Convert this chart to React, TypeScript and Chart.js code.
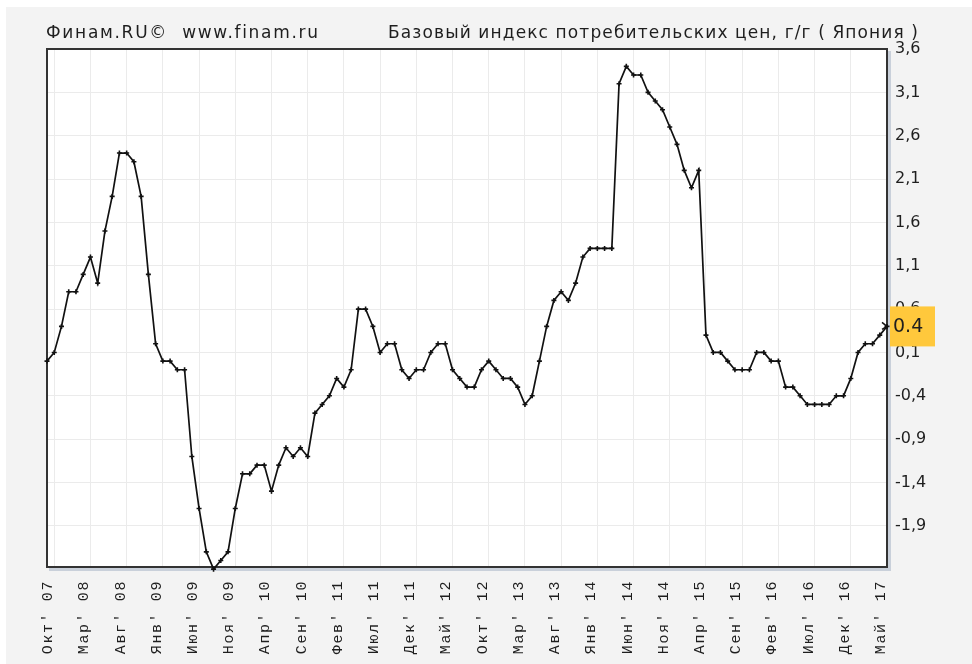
import React, { useEffect, useRef } from "react";
import { Chart, registerables } from "chart.js";

Chart.register(...registerables);

// ---------- data ----------
const MONTHS = ["Янв", "Фев", "Мар", "Апр", "Май", "Июн", "Июл", "Авг", "Сен", "Окт", "Ноя", "Дек"];
const START_YEAR = 2007;
const START_MONTH = 8; // September (0-based)

// Базовый ИПЦ Японии, г/г, % (monthly)
const VALUES: number[] = [
  0.0, 0.1, 0.4, 0.8, 0.8, 1.0, 1.2, 0.9, 1.5, 1.9,
  2.4, 2.4, 2.3, 1.9, 1.0, 0.2, 0.0, 0.0, -0.1, -0.1,
  -1.1, -1.7, -2.2, -2.4, -2.3, -2.2, -1.7, -1.3, -1.3, -1.2,
  -1.2, -1.5, -1.2, -1.0, -1.1, -1.0, -1.1, -0.6, -0.5, -0.4,
  -0.2, -0.3, -0.1, 0.6, 0.6, 0.4, 0.1, 0.2, 0.2, -0.1,
  -0.2, -0.1, -0.1, 0.1, 0.2, 0.2, -0.1, -0.2, -0.3, -0.3,
  -0.1, 0.0, -0.1, -0.2, -0.2, -0.3, -0.5, -0.4, 0.0, 0.4,
  0.7, 0.8, 0.7, 0.9, 1.2, 1.3, 1.3, 1.3, 1.3, 3.2,
  3.4, 3.3, 3.3, 3.1, 3.0, 2.9, 2.7, 2.5, 2.2, 2.0,
  2.2, 0.3, 0.1, 0.1, 0.0, -0.1, -0.1, -0.1, 0.1, 0.1,
  0.0, 0.0, -0.3, -0.3, -0.4, -0.5, -0.5, -0.5, -0.5, -0.4,
  -0.4, -0.2, 0.1, 0.2, 0.2, 0.3, 0.4,
];

const CATEGORIES: string[] = VALUES.map((_, i) => {
  const m = (START_MONTH + i) % 12;
  const y = START_YEAR + Math.floor((START_MONTH + i) / 12);
  return `${MONTHS[m]}' ${String(y % 100).padStart(2, "0")}`;
});

const TICK_LABELS = [
  "Окт' 07", "Мар' 08", "Авг' 08", "Янв' 09", "Июн' 09", "Ноя' 09",
  "Апр' 10", "Сен' 10", "Фев' 11", "Июл' 11", "Дек' 11", "Май' 12",
  "Окт' 12", "Мар' 13", "Авг' 13", "Янв' 14", "Июн' 14", "Ноя' 14",
  "Апр' 15", "Сен' 15", "Фев' 16", "Июл' 16", "Дек' 16", "Май' 17",
];
const TICK_START = 1;
const TICK_STEP = 5;

const Y_TICKS = [-1.9, -1.4, -0.9, -0.4, 0.1, 0.6, 1.1, 1.6, 2.1, 2.6, 3.1, 3.6];
const Y_MIN = -2.375;
const Y_MAX = 3.6;

const LEFT_TITLE = "Финам.RU©  www.finam.ru";
const RIGHT_TITLE = "Базовый индекс потребительских цен, г/г ( Япония )";
const LAST_LABEL = "0.4";

// ---------- styles ----------
const W = 972;
const H = 720;
const PANEL = "#f3f3f3";
const GRID = "#ebebeb";
const TEXT = "#1e1e1e";
const LINE = "#111111";
const FRAME = "#333333";
const SHADOW = "#c9d0da";
const BADGE = "#ffc83c";

function fitText(ctx: CanvasRenderingContext2D, text: string, x: number, y: number, target: number) {
  const c: any = ctx;
  c.letterSpacing = "0px";
  const w = ctx.measureText(text).width;
  const n = Array.from(text).length;
  const ls = (target - w) / Math.max(1, n - 1);
  c.letterSpacing = `${ls}px`;
  ctx.fillText(text, x, y);
  c.letterSpacing = "0px";
}

export default function App() {
  const ref = useRef<HTMLCanvasElement>(null);

  useEffect(() => {
    document.body.style.margin = "0";
    const canvas = ref.current;
    if (!canvas) return;

    const decor = {
      id: "decor",
      beforeDraw(chart: any) {
        const { ctx, chartArea: a, width, height } = chart;
        ctx.save();
        ctx.fillStyle = "#ffffff";
        ctx.fillRect(0, 0, width, height);
        ctx.fillStyle = PANEL;
        ctx.fillRect(6, 7, width - 6, height - 7);
        ctx.fillStyle = "#ffffff";
        ctx.fillRect(a.left, a.top, a.right - a.left, a.bottom - a.top);

        ctx.fillStyle = TEXT;
        ctx.font = "17px 'DejaVu Sans', sans-serif";
        ctx.textAlign = "left";
        ctx.textBaseline = "alphabetic";
        fitText(ctx, LEFT_TITLE, 46, 38, 272);
        fitText(ctx, RIGHT_TITLE, 388, 38, 530);
        ctx.restore();
      },
      beforeDatasetsDraw(chart: any) {
        const { ctx, chartArea: a } = chart;
        ctx.save();
        // shadow
        ctx.fillStyle = SHADOW;
        ctx.fillRect(a.right + 1, a.top + 2, 3, a.bottom - a.top + 2);
        ctx.fillRect(a.left + 2, a.bottom + 1, a.right - a.left + 2, 3);
        // frame
        ctx.strokeStyle = FRAME;
        ctx.lineWidth = 2;
        ctx.strokeRect(a.left, a.top, a.right - a.left, a.bottom - a.top);

        // x labels (rotated)
        const xs = chart.scales.x;
        ctx.fillStyle = TEXT;
        ctx.font = "15px 'Liberation Mono', monospace";
        (ctx as any).letterSpacing = "1.6px";
        TICK_LABELS.forEach((lab, k) => {
          const i = TICK_START + k * TICK_STEP;
          const px = xs.getPixelForValue(i) - 6;
          ctx.save();
          ctx.translate(px, a.bottom + 13);
          ctx.rotate(-Math.PI / 2);
          ctx.textAlign = "right";
          ctx.textBaseline = "middle";
          ctx.fillText(lab, 0, 0);
          ctx.restore();
        });
        (ctx as any).letterSpacing = "0px";
        ctx.restore();
      },
      afterDraw(chart: any) {
        const { ctx, chartArea: a } = chart;
        const ys = chart.scales.y;
        const meta = chart.getDatasetMeta(0);
        const last = meta.data[meta.data.length - 1];
        const py = ys.getPixelForValue(VALUES[VALUES.length - 1]);
        ctx.save();
        // arrow at last point
        ctx.strokeStyle = LINE;
        ctx.lineWidth = 1.5;
        ctx.beginPath();
        ctx.moveTo(last.x - 5, last.y - 4);
        ctx.lineTo(last.x, last.y);
        ctx.lineTo(last.x - 5, last.y + 3);
        ctx.stroke();
        // badge
        ctx.fillStyle = BADGE;
        ctx.fillRect(a.right + 3, py - 20, 45, 40);
        ctx.fillStyle = TEXT;
        ctx.font = "19px 'DejaVu Sans', sans-serif";
        ctx.textAlign = "left";
        ctx.textBaseline = "middle";
        ctx.fillText(LAST_LABEL, a.right + 6, py + 1);
        ctx.restore();
      },
    };

    const chart = new Chart(canvas, {
      type: "line",
      data: {
        labels: CATEGORIES,
        datasets: [
          {
            data: VALUES,
            borderColor: LINE,
            borderWidth: 1.7,
            pointStyle: "cross",
            pointRadius: 2.5,
            pointBorderWidth: 1.6,
            pointBorderColor: LINE,
            pointBackgroundColor: LINE,
            tension: 0,
            fill: false,
            clip: false as any,
          },
        ],
      },
      options: {
        responsive: false,
        animation: false,
        devicePixelRatio: 1,
        events: [],
        layout: { padding: { left: 47, top: 49, right: 0, bottom: 0 } },
        plugins: {
          legend: { display: false },
          tooltip: { enabled: false },
          title: { display: false },
        },
        scales: {
          x: {
            type: "category",
            offset: false,
            ticks: { display: false, autoSkip: false },
            grid: {
              color: (c: any) => (c.index % TICK_STEP === TICK_START ? GRID : "rgba(0,0,0,0)"),
              drawTicks: false,
              lineWidth: 1,
            },
            border: { display: false },
            afterFit: (s: any) => {
              s.height = H - 567;
            },
          },
          y: {
            position: "right",
            min: Y_MIN,
            max: Y_MAX,
            afterBuildTicks: (s: any) => {
              s.ticks = Y_TICKS.map((v) => ({ value: v }));
            },
            ticks: {
              padding: 8,
              color: TEXT,
              font: { family: "'DejaVu Sans', sans-serif", size: 16 },
              callback: (v: any) => Number(v).toFixed(1).replace(".", ","),
            },
            grid: { color: GRID, drawTicks: false, lineWidth: 1 },
            border: { display: false },
            afterFit: (s: any) => {
              s.width = 85;
            },
          },
        },
      },
      plugins: [decor],
    });

    return () => chart.destroy();
  }, []);

  return (
    <div
      style={{
        position: "fixed",
        left: 0,
        top: 0,
        width: W,
        height: 664,
        overflow: "hidden",
        background: "#ffffff",
      }}
    >
      <canvas ref={ref} width={W} height={H} style={{ display: "block", width: W, height: H }} />
    </div>
  );
}
